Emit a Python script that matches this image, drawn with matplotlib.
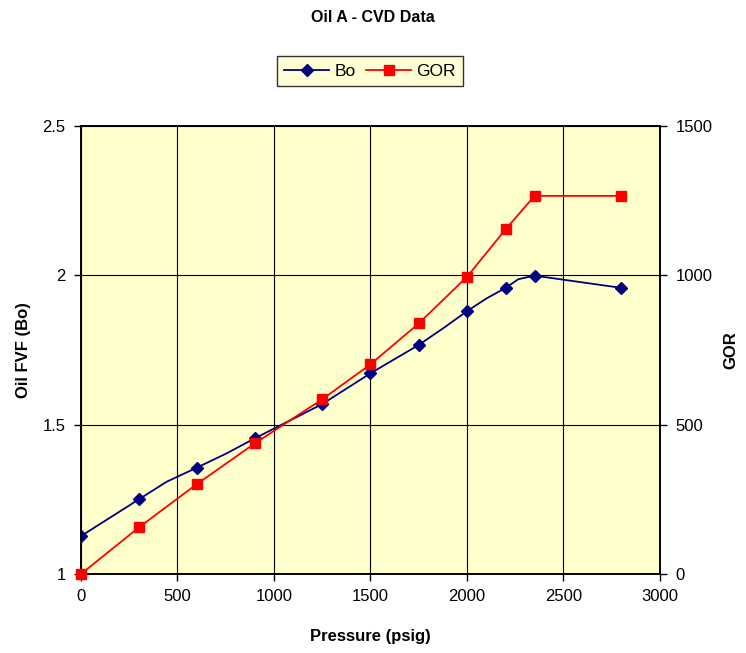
import numpy as np
import matplotlib.pyplot as plt

plt.rcParams['font.family'] = ['Liberation Sans', 'DejaVu Sans']

# datos
pres = [0, 300, 600, 900, 1250, 1500, 1750, 2000, 2200, 2350, 2800]
gor = [0, 156, 301, 437, 585, 702, 839, 995, 1154, 1266, 1266]
# Bo con puntos intermedios (sin marcador)
pres_bo = [0, 300, 444, 600, 755, 900, 1250, 1500, 1750, 1877, 2000, 2102, 2200, 2266, 2350, 2800]
bo = [1.127, 1.25, 1.309, 1.356, 1.404, 1.454, 1.569, 1.672, 1.767, 1.823, 1.880, 1.923, 1.958, 1.987, 1.999, 1.958]
marcas = [0, 1, 3, 5, 6, 7, 8, 10, 12, 14, 15]

fig = plt.figure(figsize=(7.46, 6.53), dpi=100)
ax = fig.add_axes([81/746, 1-574/653, (660-81)/746, (574-126)/653])
ax.set_facecolor('#FFFFCC')
ax2 = ax.twinx()

l1, = ax.plot(pres_bo, bo, '-', color='#000080', lw=1.3, marker='D', ms=6.5,
              markevery=marcas, label='Bo', zorder=3)
l2, = ax2.plot(pres, gor, '-', color='#FF0000', lw=1.3, marker='s', ms=7,
               label='GOR', zorder=3, clip_on=False)

ax.set_xlim(0, 3000)
ax.set_ylim(1, 2.5)
ax2.set_ylim(0, 1500)
ax.set_xticks(np.arange(0, 3001, 500))
ax.set_yticks([1, 1.5, 2, 2.5])
ax.set_yticklabels(['1', '1.5', '2', '2.5'])
ax2.set_yticks([0, 500, 1000, 1500])

ax.grid(True, color='black', lw=0.8)
ax.set_axisbelow(True)
for a in (ax, ax2):
    for s in a.spines.values():
        s.set_linewidth(1.2)
    a.tick_params(direction='out', length=5, width=1, labelsize=12, pad=6)

ax.set_xlabel('Pressure (psig)', fontsize=12, fontweight='bold', labelpad=18)
ax.set_ylabel('Oil FVF (Bo)', fontsize=12, fontweight='bold', labelpad=8)
ax2.set_ylabel('GOR', fontsize=12, fontweight='bold', labelpad=8)

fig.text(0.5, 1-17/653, 'Oil A - CVD Data', ha='center', va='center',
         fontsize=11.5, fontweight='bold')

leg = fig.legend([l1, l2], ['Bo', 'GOR'], loc='center', bbox_to_anchor=(370/746, 1-71/653),
                 ncol=2, fontsize=12.5, frameon=True, fancybox=False, facecolor='#FFFFCC',
                 edgecolor='black', handlelength=2.6, columnspacing=0.6, handletextpad=0.3,
                 borderpad=0.4)
leg.get_frame().set_linewidth(1)

plt.savefig('out.png', dpi=100)
